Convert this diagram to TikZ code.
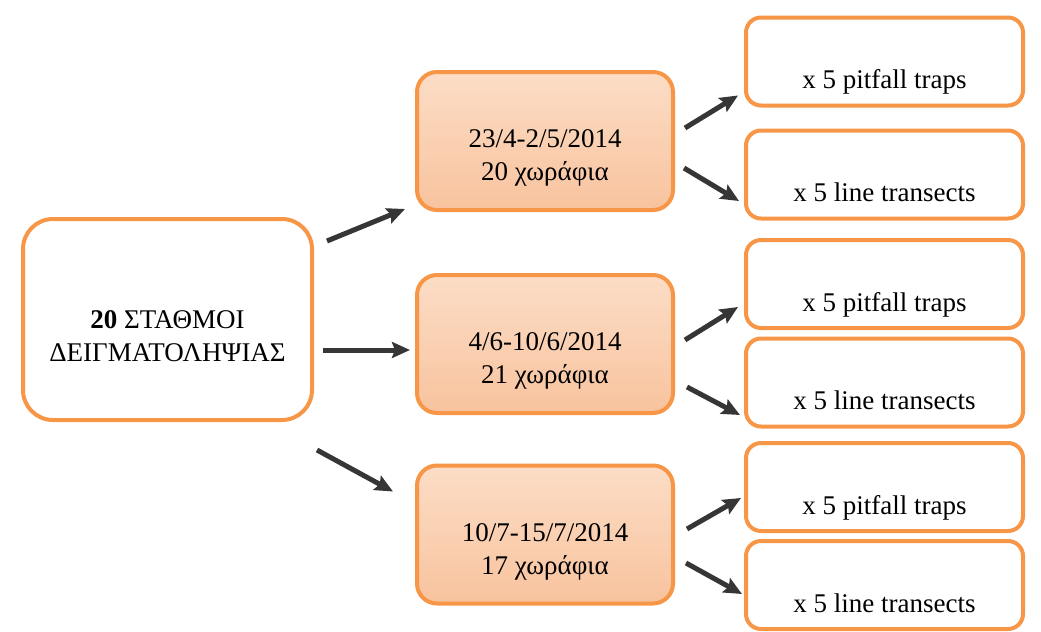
\documentclass[tikz,border=0pt]{standalone}
\usepackage{fontspec}
\setmainfont{Liberation Serif}
\usetikzlibrary{arrows.meta}
\definecolor{boxorange}{HTML}{F79646}
\definecolor{peachtop}{HTML}{FCDDC6}
\definecolor{peachbottom}{HTML}{F8C39E}
\definecolor{arrowgray}{HTML}{363636}
\tikzset{>={Stealth[length=9pt,width=8pt,inset=1.5pt]}}
\tikzset{
  basebox/.style={draw=boxorange, line width=2pt, inner sep=0pt, font=\fontsize{13.5}{16.5}\selectfont},
  stationbox/.style={basebox, rounded corners=15pt, fill=white, minimum width=144.5pt, minimum height=100.5pt, align=center},
  periodbox/.style={basebox, rounded corners=10pt, top color=peachtop, bottom color=peachbottom, minimum width=128pt, minimum height=69pt, align=center},
  trapbox/.style={basebox, rounded corners=7.5pt, fill=white, minimum width=138.5pt, text height=35.5pt, text depth=8.5pt},
  arr/.style={->, draw=arrowgray, line width=2.5pt}
}
\newcommand{\tallstrut}{\rule{0pt}{26pt}}

\begin{document}
\begin{tikzpicture}[x=0.5pt, y=-0.5pt]
    \useasboundingbox (0,0) rectangle (1041,632);
    \node[stationbox] (stations) at (167.5,319.5) {\tallstrut\textbf{20} ΣΤΑΘΜΟΙ\\ΔΕΙΓΜΑΤΟΛΗΨΙΑΣ};

    \node[periodbox] (period1) at (545,141) {\tallstrut 23/4-2/5/2014\\20 χωράφια};
    \node[periodbox] (period2) at (545,344) {\tallstrut 4/6-10/6/2014\\21 χωράφια};
    \node[periodbox] (period3) at (545,534.5) {\tallstrut 10/7-15/7/2014\\17 χωράφια};

    \node[trapbox] (pitfall1) at (884.5,61.5) {x 5 pitfall traps};
    \node[trapbox] (transect1) at (884.5,174.5) {x 5 line transects};
    \node[trapbox] (pitfall2) at (884.5,284) {x 5 pitfall traps};
    \node[trapbox] (transect2) at (884.5,382.5) {x 5 line transects};
    \node[trapbox] (pitfall3) at (884.5,487) {x 5 pitfall traps};
    \node[trapbox] (transect3) at (884.5,585) {x 5 line transects};

    \draw[arr] ([shift={(13,24)}]stations.north east) -- ([shift={(-10,-3)}]period1.south west);
    \draw[arr] ([shift={(9,30.5)}]stations.east) -- ([shift={(-5,6)}]period2.west);
    \draw[arr] ([shift={(3,28)}]stations.south east) -- ([shift={(-22,28)}]period3.north west);

    \draw[arr] ([shift={(10,-13)}]period1.east) -- ([shift={(-6,-12)}]pitfall1.south west);
    \draw[arr] ([shift={(9,27)}]period1.east) -- ([shift={(-5,26.5)}]transect1.west);
    \draw[arr] ([shift={(10,-4)}]period2.east) -- ([shift={(-6,-23)}]pitfall2.south west);
    \draw[arr] ([shift={(12,43)}]period2.east) -- ([shift={(-4,32.5)}]transect2.west);
    \draw[arr] ([shift={(12,-5.5)}]period3.east) -- ([shift={(-3,-35)}]pitfall3.south west);
    \draw[arr] ([shift={(11,28.5)}]period3.east) -- ([shift={(-2,9)}]transect3.west);
\end{tikzpicture}
\end{document}
